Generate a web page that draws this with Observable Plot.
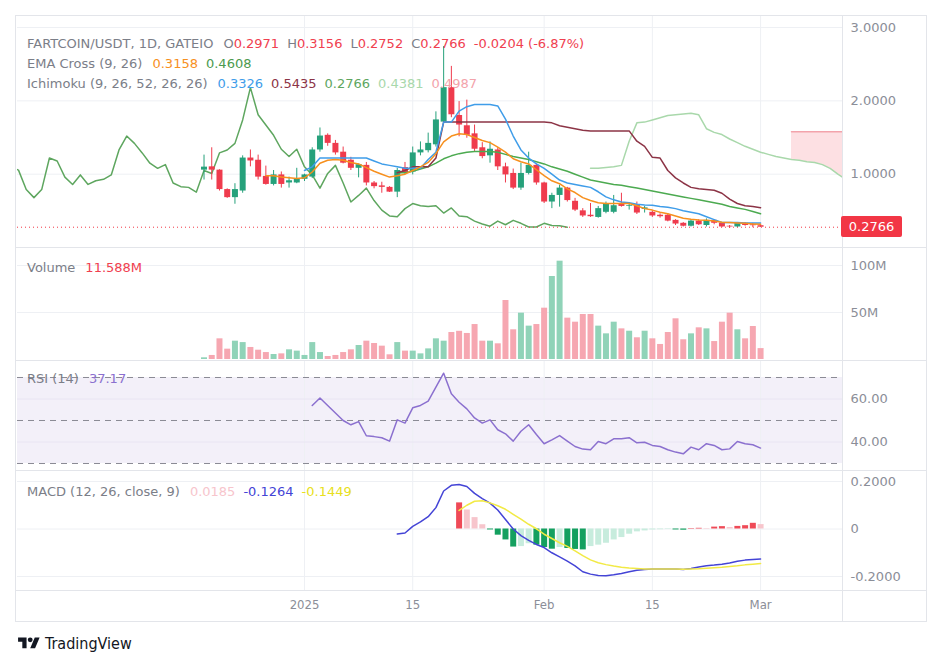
<!DOCTYPE html>
<html>
<head>
<meta charset="utf-8">
<script src="https://cdn.jsdelivr.net/npm/d3@7"></script>
<script src="https://cdn.jsdelivr.net/npm/@observablehq/plot@0.6"></script>
<style>
html,body{margin:0;padding:0;background:#fff;}
#root{position:relative;width:938px;height:660px;overflow:hidden;font-family:"DejaVu Sans",Roboto,sans-serif;}
.pane{position:absolute;left:0;width:938px;overflow:hidden;}
.pane svg{display:block;}
.frame{position:absolute;left:15px;top:15px;width:912px;height:607px;border:1px solid #e3e5ea;box-sizing:border-box;pointer-events:none;}
.hsep{position:absolute;left:15px;width:912px;height:1px;background:#e3e5ea;}
.vsep{position:absolute;left:842px;top:15px;width:1px;height:607px;background:#e3e5ea;}
.legend{position:absolute;left:27px;font-size:13px;line-height:16px;color:#7b7e88;white-space:nowrap;font-family:"DejaVu Sans",sans-serif;}
.legend .g{margin-left:8px;}
.legend .g1{margin-left:10px;}
.lastlab{position:absolute;left:841px;width:61px;height:21px;background:#f23645;color:#fff;font-size:13px;line-height:21px;text-align:center;border-radius:2px;font-family:"DejaVu Sans",sans-serif;}
.footer{position:absolute;left:17px;top:634px;display:flex;align-items:center;gap:4px;color:#131722;font-size:16px;font-family:"DejaVu Sans Condensed","DejaVu Sans",sans-serif;}
</style>
</head>
<body>
<div id="root"></div>
<script>
// ---------------- data ----------------
const candleStart = "2024-12-19"; // daily candles through 2025-03-01
const open  = [1.055,1.10,1.055,0.79,0.68,0.77,1.22,1.19,0.97,0.86,0.99,0.88,0.88,0.93,0.96,1.33,1.53,1.42,1.30,1.19,1.08,1.12,0.88,0.84,0.82,0.755,1.09,1.03,1.29,1.32,1.40,1.71,2.18,
  1.80,1.66,1.55,1.36,1.25,1.33,1.10,1.01,0.81,1.01,1.12,0.88,0.62,0.71,0.81,0.63,0.50,0.44,0.41,0.48,0.48,0.60,0.56,0.58,0.52,0.48,0.44,0.44,0.37,0.33,0.29,0.36,0.30,0.37,0.33,0.29,0.28,0.33,0.31,0.2971];
const high  = [1.26,1.36,1.06,0.80,0.87,1.25,1.33,1.26,1.11,1.05,1.03,0.96,1.08,1.00,1.36,1.63,1.55,1.46,1.37,1.23,1.14,1.16,0.90,0.89,0.83,1.08,1.16,1.37,1.44,1.56,1.85,2.74,2.47,
  1.99,2.01,1.67,1.43,1.44,1.36,1.15,1.07,1.15,1.30,1.14,0.89,0.74,0.85,0.82,0.67,0.53,0.60,0.56,0.62,0.71,0.74,0.60,0.62,0.56,0.50,0.46,0.46,0.38,0.34,0.38,0.38,0.39,0.38,0.34,0.30,0.34,0.34,0.33,0.3156];
const low   = [0.92,0.92,0.77,0.67,0.59,0.74,1.10,0.92,0.85,0.84,0.81,0.81,0.87,0.90,0.94,1.30,1.38,1.26,1.14,1.05,0.95,0.84,0.80,0.74,0.75,0.68,0.99,0.99,1.25,1.29,1.37,1.70,1.77,
  1.51,1.49,1.31,1.21,1.15,1.05,0.88,0.79,0.78,0.99,0.85,0.60,0.53,0.55,0.62,0.49,0.41,0.41,0.40,0.46,0.46,0.55,0.51,0.45,0.47,0.41,0.40,0.35,0.30,0.28,0.28,0.30,0.28,0.31,0.27,0.26,0.27,0.29,0.27,0.2752];
const close = [1.096,1.055,0.79,0.68,0.79,1.22,1.18,0.96,0.86,0.99,0.86,0.91,0.93,0.99,1.33,1.52,1.42,1.29,1.15,1.08,1.13,0.88,0.83,0.82,0.755,1.05,1.01,1.29,1.33,1.42,1.74,2.18,1.81,
  1.67,1.53,1.34,1.24,1.34,1.10,0.99,0.81,1.01,1.12,0.88,0.62,0.71,0.81,0.64,0.51,0.43,0.42,0.53,0.60,0.57,0.56,0.57,0.47,0.54,0.43,0.42,0.36,0.32,0.29,0.36,0.31,0.37,0.33,0.28,0.28,0.33,0.30,0.2971,0.2766];
const volumeM = [1.8,4.3,22,11,19.5,18,12.8,9.9,7.4,5.3,6,10.3,8.9,4.3,18,7.4,3.2,4.3,7.4,10.3,14.9,19.5,17,14.2,5,18,8.9,8.9,6,11.3,22,19.5,28.7,30,27.7,37.2,19.5,19.5,16.7,62.8,
  31.6,49.3,35.5,37.2,54.6,88.3,104.6,44,39.7,47.9,47.9,35.5,27.3,39.7,32.6,30.1,23.1,30.1,22,16,28.7,43.3,21,27.3,33.7,32.6,19.1,39.7,49.3,31.6,22,35.1,11.588];

const ema9Start = "2024-12-27";
const ema9 = [0.98,0.98,0.96,0.95,0.94,
  0.95,1.03,1.15,1.19,1.20,1.19,1.16,1.14,1.09,1.04,1.00,0.96,0.98,1.00,1.05,1.10,1.16,1.28,1.44,1.52,1.55,1.54,1.50,1.46,1.43,1.37,1.30,1.21,1.17,1.14,1.06,
  0.98,0.91,0.87,0.80,0.75,0.68,0.64,0.61,0.60,0.60,0.60,0.60,0.57,0.53,0.51,0.48,0.46,0.43,0.40,0.385,0.375,0.37,0.36,0.345,0.34,0.335,0.33,0.322,0.3158];
const ema26Start = "2025-01-13";
const ema26 = [1.02,1.02,1.04,1.07,1.10,1.15,1.21,1.25,1.28,1.30,1.31,1.31,1.31,1.30,1.27,1.24,1.22,1.20,1.17,
  1.14,1.10,1.07,1.04,1.00,0.96,0.92,0.90,0.88,0.86,0.85,0.83,0.81,0.79,0.77,0.75,0.73,0.71,0.69,0.67,0.65,0.63,0.61,0.59,0.56,0.54,0.52,0.49,0.4608];
const tenkanStart = "2025-01-01";
const tenkan = [1.05,1.10,1.22,1.22,1.22,1.22,1.22,1.22,1.22,1.18,1.14,1.12,1.10,1.08,1.08,1.08,1.20,1.30,1.71,1.71,1.86,1.92,1.95,1.95,1.95,1.93,1.75,1.52,1.33,1.22,1.14,
  1.08,1.00,0.92,0.88,0.86,0.84,0.82,0.76,0.69,0.65,0.62,0.61,0.59,0.58,0.575,0.56,0.55,0.53,0.50,0.48,0.46,0.42,0.38,0.34,0.34,0.34,0.335,0.333,0.3326];
const kijunStart = "2025-01-13";
const kijun = [1.02,1.05,1.10,1.10,1.10,1.22,1.71,1.71,1.71,1.71,1.71,1.71,1.71,1.71,1.71,1.71,1.71,1.71,1.71,
  1.71,1.70,1.66,1.64,1.62,1.60,1.59,1.59,1.59,1.59,1.59,1.59,1.45,1.38,1.23,1.22,1.05,0.95,0.88,0.82,0.80,0.79,0.78,0.74,0.66,0.60,0.57,0.56,0.5435];
const spanAStart = "2025-02-07";
const spanA = [1.08,1.08,1.09,1.10,1.12,1.45,1.70,1.71,1.74,1.77,1.80,1.81,1.82,1.83,1.81,1.62,1.57,1.54,1.48,1.43,1.38,1.34,
  1.30,1.27,1.24,1.22,1.20,1.19,1.17,1.16,1.13,1.08,1.00,0.93];
const spanBStart = "2025-03-05";
const spanB = [1.58,1.58,1.58,1.58,1.58,1.58,1.58,1.58];
const laggingShiftDays = 25;
const crossDates = ["2025-01-15","2025-01-28"];
const crossValues = [1.02,1.22];

const rsiStart = "2025-01-02";
const rsi = [57,60.5,57,53.5,50,48,49.5,42.9,42.5,42,40.4,50.3,48.8,55.9,57,59,65.5,72,62.4,58.5,55.4,51.2,48.8,50.3,45.7,43.8,40.4,45,48,43.5,
  39.2,41,43,40.4,37.9,36.7,36.4,40.2,39.2,41.5,41.5,42,39.6,39.9,38.4,37.9,36.4,35.3,34.5,37.6,36.4,39.2,38.4,36.4,36.8,40.2,39.2,38.7,37.17];
const rsiLevels = [70,50,30];

const macdStart = "2025-01-13";
const macd = [-0.021,-0.017,0.011,0.030,0.052,0.090,0.160,0.184,0.187,0.179,0.150,0.128,0.109,0.080,0.040,0.0,-0.028,-0.048,-0.065,
  -0.078,-0.100,-0.117,-0.135,-0.155,-0.180,-0.190,-0.196,-0.197,-0.193,-0.187,-0.180,-0.174,-0.170,-0.168,-0.168,-0.168,-0.168,-0.170,-0.166,-0.160,-0.155,-0.152,-0.148,-0.143,-0.136,-0.131,-0.128,-0.1264];
const signalStart = "2025-01-21";
const signal = [0.078,0.100,0.117,0.119,0.110,0.098,0.083,0.062,0.042,0.020,0.001,
  -0.022,-0.040,-0.058,-0.073,-0.092,-0.112,-0.130,-0.142,-0.150,-0.156,-0.161,-0.164,-0.166,-0.168,-0.168,-0.168,-0.168,-0.168,-0.169,-0.168,-0.167,-0.165,-0.163,-0.161,-0.158,-0.155,-0.151,-0.148,-0.1449];
const hist = [0.110,0.080,0.048,0.018,-0.004,-0.026,-0.046,-0.076,-0.074,-0.062,-0.068,
  -0.078,-0.085,-0.078,-0.082,-0.086,-0.088,-0.074,-0.068,-0.060,-0.046,-0.036,-0.022,-0.012,-0.008,-0.004,-0.003,-0.002,-0.004,-0.005,0.002,0.003,0.002,0.008,0.010,0.006,0.011,0.014,0.024,0.0185];

const tickDates = ["2025-01-01","2025-01-15","2025-02-01","2025-02-15","2025-03-01"];
const tickLabels = ["2025","15","Feb","15","Mar"];
const priceTicks = [1,2,3];
const volumeTicks = [50,100];
const rsiTicks = [40,60];
const macdTicks = [0.2,0,-0.2];

const lastPrice = 0.2766;

// ---------------- helpers ----------------
const D = s => new Date(s + "T00:00:00Z");
const series = (start, vals) => vals.map((v, i) => ({date: d3.utcDay.offset(D(start), i), value: v}));
const UP = "#26a17b", DOWN = "#ef3b4d";
const candles = open.map((o, i) => ({
  date: d3.utcDay.offset(D(candleStart), i), open: o, high: high[i], low: low[i], close: close[i],
  vol: volumeM[i], up: close[i] >= o
}));
const lagging = close.map((c, i) => ({date: d3.utcDay.offset(D(candleStart), i - laggingShiftDays), value: c}));
const spanAData = series(spanAStart, spanA);
const spanBData = series(spanBStart, spanB);
const cloud = spanBData.map(b => ({date: b.date, a: spanAData.find(a => +a.date === +b.date).value, b: b.value}));
const crosses = crossDates.map((d, i) => ({date: D(d), value: crossValues[i]}));
const ticks = tickDates.map((d, i) => ({date: D(d), label: tickLabels[i]}));
const histData = series(signalStart, hist).map((h, i, arr) => {
  const prev = i ? arr[i - 1].value : 0;
  const c = h.value >= 0 ? (h.value >= prev ? "#ef4a57" : "#f7c5cc") : (h.value < prev ? "#14a05f" : "#c7ecdd");
  return {...h, color: c};
});

// ---------------- layout ----------------
const DAY = 864e5, jan1 = Date.UTC(2025, 0, 1);
const xDomain = [new Date(jan1 - 37.13 * DAY), new Date(jan1 + 69.6 * DAY)];
const GRID = "#eef0f4", AXIS = "#8b8e98";
const root = document.getElementById("root");

function base(h, yDomain) {
  return {
    width: 938, height: h, marginLeft: 17, marginRight: 96, marginTop: 0, marginBottom: 0,
    x: {type: "utc", domain: xDomain, axis: null},
    y: {domain: yDomain},
    color: {type: "identity"},
    style: {background: "transparent", fontFamily: "'DejaVu Sans', sans-serif", fontSize: "13px", color: AXIS, overflow: "visible"}
  };
}
function addPane(top, h, plot) {
  const div = document.createElement("div");
  div.className = "pane";
  div.style.top = top + "px";
  div.style.height = h + "px";
  div.appendChild(plot);
  root.appendChild(div);
  return plot;
}
const yAxis = (vals, fmt) => Plot.axisY(vals, {anchor: "right", tickSize: 0, tickPadding: 8, tickFormat: fmt, label: null, fontSize: 13});
const vGrid = () => Plot.ruleX(ticks, {x: "date", stroke: GRID});

// Price pane
const price = addPane(15, 232, Plot.plot({
  ...base(232, [0, 3.164]),
  marks: [
    vGrid(),
    Plot.ruleY(priceTicks, {stroke: GRID}),
    Plot.areaY(cloud, {x: "date", y1: "a", y2: "b", fill: "#fde0e3", clip: true}),
    Plot.line(spanAData, {x: "date", y: "value", stroke: "#a9d8ab", strokeWidth: 1.5, clip: true}),
    Plot.line(spanBData, {x: "date", y: "value", stroke: "#f3a3ab", strokeWidth: 1.5, clip: true}),
    Plot.line(lagging, {x: "date", y: "value", stroke: "#5ea65f", strokeWidth: 1.5, clip: true}),
    Plot.ruleX(candles, {x: "date", y1: "low", y2: "high", stroke: d => d.up ? UP : DOWN, strokeWidth: 1}),
    Plot.ruleX(candles, {x: "date", y1: "open", y2: "close", stroke: d => d.up ? UP : DOWN, strokeWidth: 6}),
    Plot.line(series(ema26Start, ema26), {x: "date", y: "value", stroke: "#4caa50", strokeWidth: 1.5}),
    Plot.line(series(kijunStart, kijun), {x: "date", y: "value", stroke: "#8c3446", strokeWidth: 1.5}),
    Plot.line(series(tenkanStart, tenkan), {x: "date", y: "value", stroke: "#3f9de9", strokeWidth: 1.5}),
    Plot.line(series(ema9Start, ema9), {x: "date", y: "value", stroke: "#f7901e", strokeWidth: 1.5}),
    Plot.dot(crosses, {x: "date", y: "value", symbol: "plus", r: 5.5, fill: "#2196f3", stroke: "none"}),
    Plot.ruleY([lastPrice], {stroke: "#f23645", strokeDasharray: "1,3"}),
    yAxis(priceTicks, d => d.toFixed(4))
  ]
}));

// Volume pane
addPane(248, 111, Plot.plot({
  ...base(111, [0, 118.09]),
  marks: [
    vGrid(),
    Plot.ruleY(volumeTicks, {stroke: GRID}),
    Plot.ruleX(candles, {x: "date", y1: 0, y2: "vol", stroke: d => d.up ? "#90d3b8" : "#f6a7b1", strokeWidth: 6}),
    yAxis(volumeTicks, d => d + "M")
  ]
}));

// RSI pane
const rsiBand = xDomain.map(d => ({date: d, lo: 30, hi: 70}));
addPane(361, 109, Plot.plot({
  ...base(109, [26.74, 77.44]),
  marks: [
    Plot.areaY(rsiBand, {x: "date", y1: "lo", y2: "hi", fill: "#7e57c2", fillOpacity: 0.09}),
    vGrid(),
    Plot.ruleY(rsiTicks, {stroke: "#e9e5f3"}),
    Plot.ruleY(rsiLevels, {stroke: "#8a8a94", strokeDasharray: "6,5"}),
    Plot.line(series(rsiStart, rsi), {x: "date", y: "value", stroke: "#8b70cf", strokeWidth: 1.5}),
    yAxis(rsiTicks, d => d.toFixed(2))
  ]
}));

// MACD pane
addPane(471, 119, Plot.plot({
  ...base(119, [-0.2589, 0.2421]),
  marks: [
    vGrid(),
    Plot.ruleY(macdTicks, {stroke: GRID}),
    Plot.ruleX(histData, {x: "date", y1: 0, y2: "value", stroke: "color", strokeWidth: 6}),
    Plot.line(series(macdStart, macd), {x: "date", y: "value", stroke: "#4444d6", strokeWidth: 1.5}),
    Plot.line(series(signalStart, signal), {x: "date", y: "value", stroke: "#f2ea45", strokeWidth: 1.5}),
    yAxis(macdTicks, d => d === 0 ? "0" : d.toFixed(4))
  ]
}));

// Time axis
addPane(591, 31, Plot.plot({
  ...base(31, [0, 1]),
  y: {domain: [0, 1], axis: null},
  marks: [
    Plot.text(ticks, {x: "date", text: "label", frameAnchor: "middle", fontSize: 13, fill: AXIS, dy: -2,
      fontFamily: "'DejaVu Sans Condensed', 'DejaVu Sans', sans-serif"})
  ]
}));

// separators and frame
[247, 360, 470, 590].forEach(y => {
  const s = document.createElement("div"); s.className = "hsep"; s.style.top = y + "px"; root.appendChild(s);
});
const vs = document.createElement("div"); vs.className = "vsep"; root.appendChild(vs);
const fr = document.createElement("div"); fr.className = "frame"; root.appendChild(fr);

// last price label
const ly = 15 + price.scale("y").apply(lastPrice);
const lab = document.createElement("div");
lab.className = "lastlab"; lab.style.top = (ly - 10.5) + "px"; lab.textContent = lastPrice.toFixed(4);
root.appendChild(lab);

// legends
function legend(top, html) {
  const d = document.createElement("div"); d.className = "legend"; d.style.top = top + "px"; d.innerHTML = html; root.appendChild(d);
}
const R = "#f0404f";
legend(36, `FARTCOIN/USDT, 1D, GATEIO<span class="g1">O<span style="color:${R}">0.2971</span></span><span class="g">H<span style="color:${R}">0.3156</span></span><span class="g">L<span style="color:${R}">0.2752</span></span><span class="g">C<span style="color:${R}">0.2766</span></span><span class="g" style="color:${R}">-0.0204 (-6.87%)</span>`);
legend(56, `EMA Cross (9, 26)<span class="g1" style="color:#f7901e">0.3158</span><span class="g" style="color:#4c9a4e">0.4608</span>`);
legend(76, `Ichimoku (9, 26, 52, 26, 26)<span class="g1" style="color:#3f9de9">0.3326</span><span class="g" style="color:#8c3446">0.5435</span><span class="g" style="color:#5ea65f">0.2766</span><span class="g" style="color:#a9d8ab">0.4381</span><span class="g" style="color:#f3a3ab">0.4987</span>`);
legend(260, `Volume<span class="g1" style="color:${R}">11.588M</span>`);
legend(371, `RSI (14)<span class="g1" style="color:#8b70cf">37.17</span>`);
legend(484, `MACD (12, 26, close, 9)<span class="g1" style="color:#f7c5cc">0.0185</span><span class="g" style="color:#4444d6">-0.1264</span><span class="g" style="color:#e8df20">-0.1449</span>`);

// footer
const ft = document.createElement("div");
ft.className = "footer";
ft.innerHTML = `<svg width="24" height="17" viewBox="0 0 36 28"><path d="M14 22H7V11H0V4h14v18zM28 22h-8l7.5-18h8L28 22z" fill="#131722"/><circle cx="20" cy="8" r="4" fill="#131722"/></svg><span>TradingView</span>`;
root.appendChild(ft);
</script>
</body>
</html>
